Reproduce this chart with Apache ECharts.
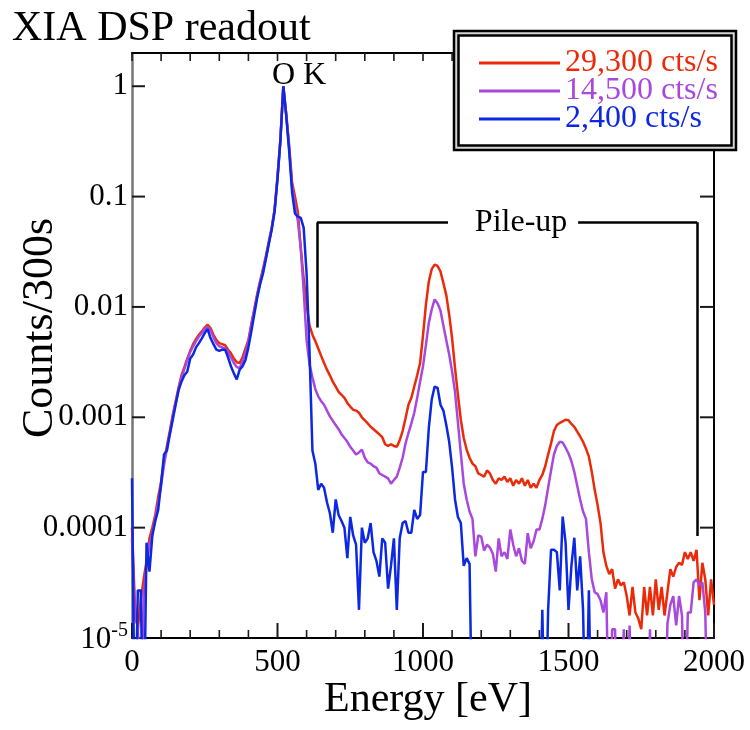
<!DOCTYPE html>
<html><head><meta charset="utf-8">
<script src="https://cdn.jsdelivr.net/npm/echarts@6/dist/echarts.min.js"></script>
<style>html,body{margin:0;padding:0;background:#fff}#c{width:750px;height:730px}</style>
</head><body><div id="c"></div>
<script>
// ---- data (counts / 300 s, normalised to O K peak), 10 eV bins from 0 to 2000 eV ----
const BIN_EV = 10;
const SERIES_NAMES = ['29,300 cts/s', '14,500 cts/s', '2,400 cts/s'];
const X_TICKS = [0, 500, 1000, 1500, 2000];
const X_MINOR_STEP = 100;
const Y_DECADES = [1, 0.1, 0.01, 0.001, 0.0001, 0.00001];
const Y_TICK_LABELS = ['1', '0.1', '0.01', '0.001', '0.0001', '{b|10}{s|-5}'];
const BELOW = 1e-6; // below the plotted range (empty bins)

const red29300 = [
  1.0e-4, 2.0e-5, 1.2e-5, 2.2e-5, 3.4e-5, 5.0e-5, 8.0e-5, 1.0e-4, 1.3e-4, 1.9e-4,
  2.6e-4, 4.0e-4, 5.5e-4, 7.5e-4, 1.05e-3, 1.4e-3, 1.85e-3, 2.4e-3, 2.85e-3, 3.4e-3,
  4.0e-3, 4.6e-3, 5.1e-3, 5.6e-3, 6.0e-3, 6.5e-3, 6.9e-3, 6.4e-3, 5.6e-3, 5.0e-3,
  4.7e-3, 4.6e-3, 4.5e-3, 4.1e-3, 3.8e-3, 3.4e-3, 3.15e-3, 3.1e-3, 3.5e-3, 4.2e-3,
  5.0e-3, 7.0e-3, 9.5e-3, 0.013, 0.017, 0.022, 0.029, 0.039, 0.052, 0.077,
  0.15, 0.33, 1.0, 0.56, 0.29, 0.135, 0.1, 0.072, 0.034, 0.018,
  0.0105, 0.0068, 0.0056, 0.0049, 0.0042, 0.0036, 0.0031, 0.0027, 0.0024, 0.0021,
  0.0019, 0.0017, 0.0016, 0.0015, 0.00135, 0.00125, 0.00117, 0.00115, 0.0011, 0.001,
  0.00094, 0.00088, 0.00082, 0.00078, 0.00074, 0.0007, 0.00066, 0.00057, 0.00055, 0.00057,
  0.00055, 0.00054, 0.00062, 0.00075, 0.00098, 0.0013, 0.0015, 0.0019, 0.0024, 0.0031,
  0.0055, 0.0105, 0.017, 0.022, 0.0242, 0.0235, 0.021, 0.0165, 0.0128, 0.0085,
  0.0052, 0.0028, 0.0016, 0.00095, 0.00065, 0.00051, 0.00043, 0.00038, 0.00036, 0.00031,
  0.0003, 0.00029, 0.00033, 0.00031, 0.00027, 0.00025, 0.00028, 0.00027, 0.00029, 0.00026,
  0.00028, 0.00024, 0.00027, 0.00025, 0.00028, 0.00024, 0.00027, 0.00023, 0.00025, 0.00023,
  0.00027, 0.0003, 0.00036, 0.00046, 0.00058, 0.00075, 0.00085, 0.00089, 0.00092, 0.00095,
  0.00094, 0.00087, 0.00082, 0.00074, 0.00067, 0.0006, 0.00052, 0.00044, 0.00032, 0.00022,
  0.00016, 0.00011, 6.0e-5, 4.5e-5, 3.8e-5, 4.2e-5, 2.8e-5, 3.4e-5, 3.0e-5, 3.2e-5,
  2.4e-5, 1.6e-5, 2.9e-5, 1.7e-5, 1.5e-5, 1.2e-5, 2.9e-5, 1.6e-5, 2.9e-5, 1.6e-5,
  3.4e-5, 1.8e-5, 2.9e-5, 1.6e-5, 2.6e-5, 4.2e-5, 3.6e-5, 4.4e-5, 4.8e-5, 4.6e-5,
  6.0e-5, 5.2e-5, 6.0e-5, 5.0e-5, 6.3e-5, 2.2e-5, 4.8e-5, 3.4e-5, 1.6e-5, 3.4e-5,
  2.0e-5
];

const purple14500 = [
  8e-5, 1.5e-5, 1.3e-5, BELOW, 2.5e-5, 4.5e-5, 7e-5, 9e-5, 1.2e-4, 1.7e-4,
  2.4e-4, 3.7e-4, 5.2e-4, 7.2e-4, 1.0e-3, 1.35e-3, 1.8e-3, 2.3e-3, 2.75e-3, 3.3e-3,
  3.9e-3, 4.4e-3, 4.9e-3, 5.4e-3, 5.8e-3, 6.3e-3, 6.6e-3, 6.1e-3, 5.3e-3, 4.7e-3,
  4.4e-3, 4.3e-3, 4.2e-3, 3.9e-3, 3.5e-3, 3.1e-3, 2.85e-3, 2.8e-3, 3.2e-3, 3.9e-3,
  4.8e-3, 6.8e-3, 9.2e-3, 0.0125, 0.0165, 0.021, 0.028, 0.038, 0.051, 0.075,
  0.148, 0.33, 1.0, 0.55, 0.28, 0.125, 0.085, 0.06, 0.034, 0.014,
  0.005, 0.003, 0.0023, 0.0018, 0.00155, 0.0014, 0.0013, 0.00115, 0.00102, 0.00093,
  0.00085, 0.00078, 0.0007, 0.00065, 0.0006, 0.00054, 0.0005, 0.00046, 0.00048, 0.00051,
  0.00043, 0.00039, 0.00038, 0.00036, 0.00035, 0.00031, 0.0003, 0.00029, 0.00028, 0.00025,
  0.00027, 0.00029, 0.00035, 0.00043, 0.00058, 0.00072, 0.00088, 0.0011, 0.0015, 0.0021,
  0.0029, 0.0045, 0.0072, 0.0095, 0.0117, 0.0108, 0.0093, 0.0068, 0.005, 0.0037,
  0.0026, 0.0017, 0.0009, 0.00047, 0.00025, 0.00018, 0.00014, 0.00012, 5.5e-5, 8.5e-5,
  8.3e-5, 6.2e-5, 7e-5, 6.6e-5, 5.8e-5, 4.0e-5, 8e-5, 5.5e-5, 6e-5, 5.2e-5,
  9.6e-5, 7e-5, 5.5e-5, 6.5e-5, 5.0e-5, 4.7e-5, 8.9e-5, 6.5e-5, 7.5e-5, 9.6e-5,
  9.6e-5, 1.2e-4, 1.6e-4, 2.3e-4, 3.3e-4, 4.6e-4, 5.5e-4, 6.0e-4, 5.9e-4, 5.3e-4,
  4.7e-4, 4.0e-4, 3.2e-4, 2.4e-4, 1.8e-4, 1.4e-4, 1.2e-4, 6e-5, 3.4e-5, 2.6e-5,
  2.5e-5, 2.2e-5, 1.7e-5, 2.6e-5, BELOW, 1.2e-5, 1.2e-5, BELOW, BELOW, 1.2e-5,
  BELOW, 1.3e-5, BELOW, BELOW, BELOW, BELOW, BELOW, BELOW, 1.2e-5, BELOW,
  BELOW, BELOW, BELOW, BELOW, 1.35e-5, 2.0e-5, 2.4e-5, 1.3e-5, 2.4e-5, 1.6e-5,
  BELOW, 1.7e-5, 1.7e-5, 3.2e-5, 3.4e-5, 3.0e-5, 3.2e-5, 1.7e-5, BELOW, BELOW,
  BELOW
];

const blue2400 = [
  2.8e-4, BELOW, 2.7e-5, 2.7e-5, BELOW, 7.3e-5, 4e-5, 8.5e-5, 1.15e-4, 1.45e-4,
  2.5e-4, 4.6e-4, 5.0e-4, 7.0e-4, 9.5e-4, 1.3e-3, 1.75e-3, 2.1e-3, 2.4e-3, 2.6e-3,
  3.4e-3, 3.7e-3, 4.3e-3, 4.7e-3, 5.2e-3, 5.8e-3, 6.3e-3, 5.2e-3, 4.6e-3, 4.1e-3,
  4.0e-3, 4.1e-3, 4.1e-3, 3.5e-3, 2.9e-3, 2.5e-3, 2.2e-3, 2.7e-3, 2.9e-3, 3.3e-3,
  4.3e-3, 6.0e-3, 8.5e-3, 0.012, 0.016, 0.02, 0.027, 0.037, 0.05, 0.073,
  0.145, 0.32, 1.0, 0.54, 0.26, 0.11, 0.07, 0.066, 0.064, 0.052,
  0.02, 0.004, 5e-4, 3.8e-4, 2.2e-4, 2.5e-4, 2.3e-4, 1.7e-4, 1.35e-4, 9e-5,
  1.8e-4, 1.3e-4, 1.15e-4, 1.0e-4, 5.3e-5, 1.25e-4, 8.5e-5, 7.0e-5, 1.8e-5, 1.0e-4,
  7.3e-5, 8.0e-5, 1.1e-4, 6e-5, 5.0e-5, 3.6e-5, 8e-5, 7.3e-5, 2.8e-5, 4.5e-5,
  8e-5, 1.8e-5, 8e-5, 1.1e-4, 1.15e-4, 9e-5, 9e-5, 1.45e-4, 1.2e-4, 1.3e-4,
  3.2e-4, 3.2e-4, 8e-4, 1.45e-3, 1.9e-3, 1.85e-3, 1.3e-3, 1.15e-3, 8.5e-4, 6e-4,
  3.5e-4, 1.8e-4, 1.25e-4, 1.1e-4, 4.5e-5, 5.3e-5, 4.7e-5, BELOW, BELOW, BELOW,
  BELOW, BELOW, BELOW, BELOW, BELOW, BELOW, BELOW, BELOW, BELOW, BELOW,
  BELOW, BELOW, BELOW, BELOW, BELOW, BELOW, BELOW, BELOW, BELOW, BELOW,
  BELOW, 1.8e-5, BELOW, 1.8e-5, 6.3e-5, 6.3e-5, 6.0e-5, 2.7e-5, 1.26e-4, 7.3e-5,
  1.8e-5, 4.5e-5, 8.1e-5, 2.7e-5, 5.5e-5, 1.8e-5, BELOW, 2.7e-5, BELOW, BELOW,
  BELOW, BELOW, BELOW, BELOW, BELOW, BELOW, BELOW, BELOW, BELOW, BELOW,
  BELOW, BELOW, BELOW, BELOW, BELOW, BELOW, BELOW, BELOW, BELOW, BELOW,
  BELOW, BELOW, BELOW, BELOW, BELOW, BELOW, BELOW, BELOW, BELOW, BELOW,
  BELOW, BELOW, BELOW, BELOW, BELOW, BELOW, BELOW, BELOW, BELOW, BELOW,
  BELOW
];

const energies = red29300.map((_, i) => i * BIN_EV);

// ---- styling ----
const FONT = 'Liberation Serif';
const COLORS = ['#ea2a08', '#a848dc', '#0c28e2'];
const pair = arr => energies.map((e, i) => [e, arr[i]]);
const X_MIN = X_TICKS[0], X_MAX = X_TICKS[X_TICKS.length - 1];
const Y_MIN = 1e-5, Y_MAX = 2;

// inward tick marks: [x value, y value, side(0 bottom,1 top,2 left,3 right), pixel length, width]
const tickMarks = [];
for (let x = X_MIN; x <= X_MAX; x += X_MINOR_STEP) {
  const major = X_TICKS.includes(x);
  tickMarks.push([x, Y_MIN, 0, major ? 15 : 8, major ? 2 : 1.6]);
  tickMarks.push([x, Y_MAX, 1, 8, 1.6]);
}
Y_DECADES.forEach(v => {
  tickMarks.push([X_MIN, v, 2, 13, 2]);
  tickMarks.push([X_MAX, v, 3, 14, 2]);
});
const TICK_DIR = [[0, -1], [0, 1], [1, 0], [-1, 0]];

const chart = echarts.init(document.getElementById('c'), null, {renderer: 'canvas'});

const baseX = {
  type: 'value', min: X_MIN, max: X_MAX, interval: 500,
  splitLine: {show: false}, minorSplitLine: {show: false},
  axisTick: {show: false}, minorTick: {show: false}
};
const baseY = {
  type: 'log', logBase: 10, min: Y_MIN, max: Y_MAX,
  splitLine: {show: false}, minorTick: {show: false}, minorSplitLine: {show: false},
  axisTick: {show: false}
};

const lineSeries = (name, arr, color, extra) => Object.assign({
  name, type: 'line', data: pair(arr), xAxisIndex: 0, yAxisIndex: 0,
  symbol: 'none', showSymbol: false, clip: true, animation: false,
  lineStyle: {color, width: 2.5}, itemStyle: {color},
  emphasis: {disabled: true}
}, extra || {});

const option = {
  animation: false,
  backgroundColor: '#fff',
  grid: {left: 132, right: 36, top: 53, bottom: 92},
  xAxis: [
    Object.assign({}, baseX, {
      position: 'bottom',
      axisLine: {show: true, onZero: false, lineStyle: {color: '#000', width: 2}},
      axisLabel: {fontSize: 31, fontFamily: FONT, color: '#000', margin: 9,
                  formatter: v => String(v)}
    }),
    Object.assign({}, baseX, {
      position: 'top',
      axisLine: {show: true, onZero: false, lineStyle: {color: '#000', width: 2}},
      axisLabel: {show: false}
    })
  ],
  yAxis: [
    Object.assign({}, baseY, {
      position: 'left',
      axisLine: {show: true, onZero: false, lineStyle: {color: '#777', width: 2.5}},
      axisLabel: {
        margin: 4, fontSize: 31, fontFamily: FONT, color: '#000',
        formatter: v => {
          const l = Math.log10(v), r = Math.round(l);
          if (Math.abs(l - r) > 1e-6 || r > 0 || r < -5) return '';
          return Y_TICK_LABELS[-r];
        },
        rich: {
          b: {fontSize: 31, fontFamily: FONT, color: '#000', verticalAlign: 'bottom'},
          s: {fontSize: 20, fontFamily: FONT, color: '#000', verticalAlign: 'bottom', padding: [0, 0, 15, 0]}
        }
      }
    }),
    Object.assign({}, baseY, {
      position: 'right',
      axisLine: {show: true, onZero: false, lineStyle: {color: '#000', width: 2}},
      axisLabel: {show: false}
    })
  ],
  legend: {
    orient: 'vertical', left: 474, top: 42, z: 60,
    icon: 'rect', itemWidth: 81, itemHeight: 3, itemGap: -4,
    selectedMode: false,
    textStyle: {fontSize: 32, fontFamily: FONT},
    data: SERIES_NAMES.map((n, i) => ({name: n, textStyle: {color: COLORS[i]}}))
  },
  graphic: [
    {type: 'rect', z: 50, shape: {x: 454, y: 31, width: 282, height: 119},
     style: {fill: '#d4d4d4', stroke: '#000', lineWidth: 2.5}},
    {type: 'rect', z: 51, shape: {x: 458.5, y: 35.5, width: 273, height: 110},
     style: {fill: '#fff', stroke: '#000', lineWidth: 2.5}},
    {type: 'text', z: 52, x: 12, y: 29,
     style: {text: 'XIA DSP readout', fontSize: 42, fontFamily: FONT, fill: '#000',
             align: 'left', verticalAlign: 'middle'}},
    {type: 'text', z: 52, x: 428, y: 700,
     style: {text: 'Energy [eV]', fontSize: 42, fontFamily: FONT, fill: '#000',
             align: 'center', verticalAlign: 'middle'}},
    {type: 'text', z: 52, x: 40, y: 328, rotation: Math.PI / 2,
     style: {text: 'Counts/300s', fontSize: 44, fontFamily: FONT, fill: '#000',
             align: 'center', verticalAlign: 'middle'}}
  ],
  series: [
    {
      type: 'custom', name: 'ticks', silent: true, clip: false, animation: false,
      xAxisIndex: 0, yAxisIndex: 0, z: 1,
      data: tickMarks,
      renderItem: (params, api) => {
        const p = api.coord([api.value(0), api.value(1)]);
        const d = TICK_DIR[api.value(2)], len = api.value(3);
        return {
          type: 'line',
          shape: {x1: p[0], y1: p[1], x2: p[0] + d[0] * len, y2: p[1] + d[1] * len},
          style: {stroke: '#1a1a1a', lineWidth: api.value(4)}
        };
      }
    },
    lineSeries(SERIES_NAMES[0], red29300, COLORS[0], {
      markLine: {
        silent: true, symbol: ['none', 'none'], animation: false,
        label: {show: false},
        lineStyle: {color: '#000', width: 2.5, type: 'solid'},
        emphasis: {disabled: true},
        data: [
          [{coord: [636, 0.0585]}, {coord: [1086, 0.0585]}],
          [{coord: [1533, 0.0585]}, {coord: [1942, 0.0585]}],
          [{coord: [636, 0.0585]}, {coord: [636, 0.0065]}],
          [{coord: [1942, 0.0585]}, {coord: [1942, 8.4e-5]}]
        ]
      },
      markPoint: {
        silent: true, animation: false, symbol: 'rect', symbolSize: 1,
        itemStyle: {color: 'rgba(0,0,0,0)'},
        label: {show: true, position: 'inside', formatter: '{b}', color: '#000',
                fontSize: 32, fontFamily: FONT},
        data: [
          {name: 'Pile-up', coord: [1337, 0.0585]},
          {name: 'O K', coord: [574, 1.25]}
        ]
      }
    }),
    lineSeries(SERIES_NAMES[1], purple14500, COLORS[1]),
    lineSeries(SERIES_NAMES[2], blue2400, COLORS[2])
  ]
};
chart.setOption(option);
</script>
</body></html>
